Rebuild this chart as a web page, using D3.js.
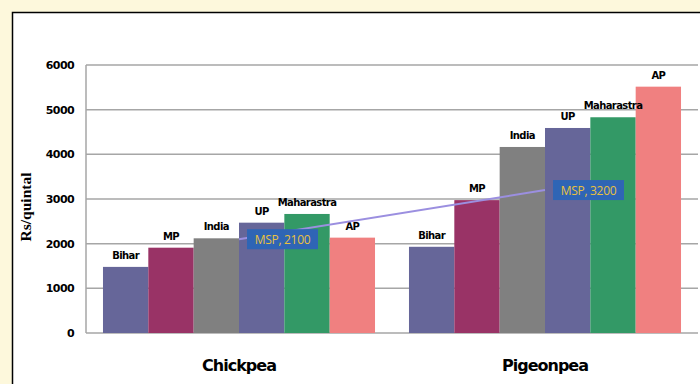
<!DOCTYPE html>
<html>

<head>
    <meta charset="UTF-8" />
    <title>msp chart</title>
    <style>
        body {
            margin: 0;
            padding: 0;
            background-color: #fdf8dc;
            overflow: hidden;
        }
    </style>
</head>

<body>
    <div class="container"></div>

    <script src="https://cdnjs.cloudflare.com/ajax/libs/d3/7.8.5/d3.min.js"></script>
    <script>
        const crops = ["Chickpea", "Pigeonpea"];
        const states = ["Bihar", "MP", "India", "UP", "Maharastra", "AP"];
        const chickpeaPrices = [1480, 1910, 2120, 2470, 2665, 2135];
        const pigeonpeaPrices = [1930, 2975, 4165, 4590, 4830, 5515];
        const mspValues = [2100, 3200];
        const yTicks = [0, 1000, 2000, 3000, 4000, 5000, 6000];
        const colors = ["#666699", "#993366", "#808080", "#666699", "#339966", "#f08080"];

        const w = 700;
        const h = 384;

        const svg = d3.select(".container").append('svg')
            .attr('width', w)
            .attr('height', h)
            .style('display', 'block')

        // white panel
        svg.append('rect')
            .attr('x', 12.5)
            .attr('y', 12.5)
            .attr('width', 700)
            .attr('height', 400)
            .attr('fill', '#fff')
            .attr('stroke', '#000')
            .attr('stroke-width', 1.5)

        const x0 = d3.scaleBand().domain(crops).range([86, 698]).paddingInner(0.111).paddingOuter(0.0555)
        const x1 = d3.scaleBand().domain(states).range([0, x0.bandwidth()])
        const y = d3.scaleLinear().domain([0, 6000]).range([333, 65])

        // gridlines
        svg.append('g')
            .selectAll('line')
            .data(yTicks)
            .join('line')
            .attr('x1', 86)
            .attr('x2', 698)
            .attr('y1', d => y(d))
            .attr('y2', d => y(d))
            .attr('stroke', '#a6a6a6')
            .attr('stroke-width', 1.5)

        svg.append('line')
            .attr('x1', 86).attr('x2', 86)
            .attr('y1', y(6000)).attr('y2', y(0))
            .attr('stroke', '#a6a6a6')
            .attr('stroke-width', 1.5)

        const yAxis = svg.append('g')
            .attr('transform', 'translate(74,0)')
            .call(d3.axisLeft(y).tickValues(yTicks).tickSize(0).tickFormat(d3.format('d')))
        yAxis.select('.domain').remove()
        yAxis.selectAll('text')
            .attr('x', 0)
            .attr('font-family', 'DejaVu Sans')
            .attr('font-weight', 'bold')
            .attr('font-size', 11)
            .attr('letter-spacing', -0.6)
            .attr('fill', '#000')

        svg.append('text')
            .attr('transform', 'translate(31,207) rotate(-90)')
            .attr('text-anchor', 'middle')
            .attr('font-family', 'Liberation Serif')
            .attr('font-weight', 'bold')
            .attr('font-size', 15.5)
            .text('Rs/quintal')

        const groups = [chickpeaPrices, pigeonpeaPrices];

        const g = svg.append('g')
            .selectAll('g')
            .data(crops)
            .join('g')
            .attr('transform', d => `translate(${x0(d)},0)`)

        g.selectAll('rect')
            .data((d, i) => groups[i].map((v, j) => ({ state: states[j], value: v })))
            .join('rect')
            .attr('x', d => x1(d.state))
            .attr('y', d => y(d.value))
            .attr('width', x1.bandwidth())
            .attr('height', d => y(0) - y(d.value))
            .attr('fill', (d, j) => colors[j])

        g.selectAll('text')
            .data((d, i) => groups[i].map((v, j) => ({ state: states[j], value: v })))
            .join('text')
            .attr('x', d => x1(d.state) + x1.bandwidth() / 2)
            .attr('y', d => y(d.value) - 8)
            .attr('text-anchor', 'middle')
            .attr('font-family', 'DejaVu Sans')
            .attr('font-weight', 'bold')
            .attr('font-size', 10)
            .attr('letter-spacing', -0.6)
            .text(d => d.state)

        // MSP line
        const mspPts = crops.map((c, i) => ({ x: x0(c) + x0.bandwidth() / 2, y: y(mspValues[i]), v: mspValues[i] }))

        svg.append('path')
            .attr('d', d3.line().x(d => d.x).y(d => d.y)(mspPts))
            .attr('stroke', '#9b8fe0')
            .attr('stroke-width', 2)
            .attr('fill', 'none')

        const lbl = svg.append('g')
            .selectAll('g')
            .data(mspPts)
            .join('g')
            .attr('transform', d => `translate(${d.x + 8},${d.y})`)

        lbl.append('rect')
            .attr('x', 0)
            .attr('y', -10)
            .attr('width', 71)
            .attr('height', 20)
            .attr('fill', '#2f65b5')

        lbl.append('text')
            .attr('x', 35.5)
            .attr('y', 4.5)
            .attr('text-anchor', 'middle')
            .attr('font-family', 'Open Sans')
            .attr('font-size', 12)
            .attr('letter-spacing', -0.3)
            .attr('fill', '#e9c13e')
            .text(d => 'MSP, ' + d.v)

        // category labels
        svg.append('g')
            .selectAll('text')
            .data(crops)
            .join('text')
            .attr('x', d => x0(d) + x0.bandwidth() / 2)
            .attr('y', 371)
            .attr('text-anchor', 'middle')
            .attr('font-family', 'DejaVu Sans')
            .attr('font-weight', 'bold')
            .attr('font-size', 16)
            .attr('letter-spacing', -1)
            .text(d => d)
    </script>
</body>

</html>
